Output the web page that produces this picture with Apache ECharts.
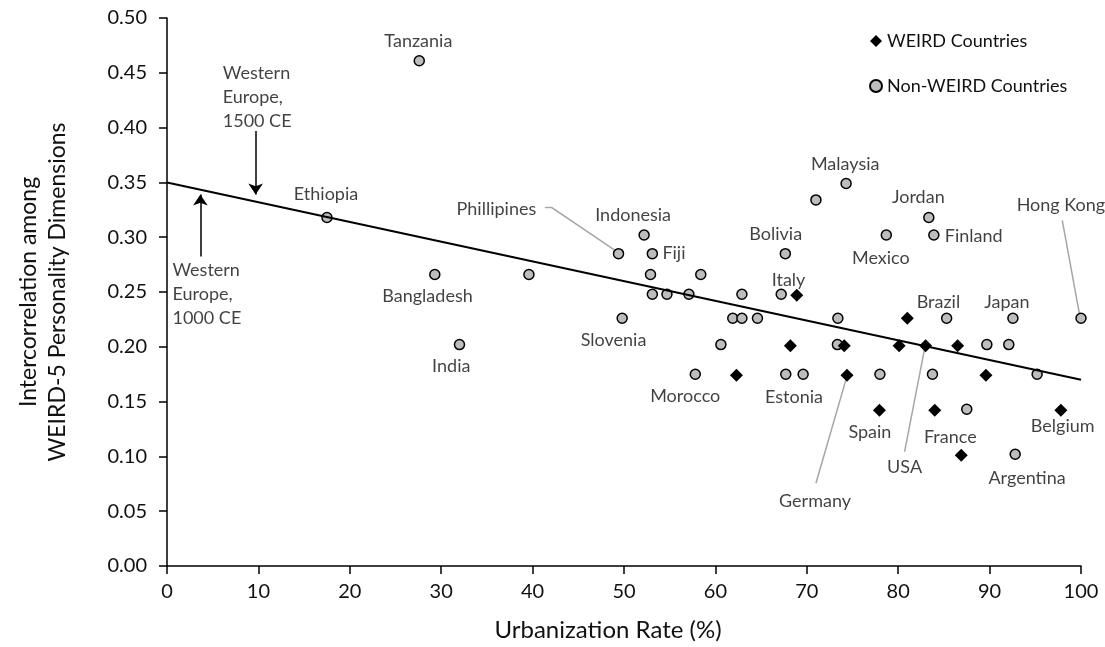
<!DOCTYPE html>
<html>
<head>
    <meta charset="UTF-8">
    <title>Urbanization vs WEIRD-5 intercorrelation</title>
    <script src="https://cdn.jsdelivr.net/npm/echarts@6/dist/echarts.min.js"></script>
    <style>
        html, body { margin: 0; padding: 0; background: #fff; }
        #main { width: 1105px; height: 647px; }
    </style>
</head>
<body>
<div id="main"></div>
<script>
    // WEIRD countries (diamonds)
    var weirdX = [68.9, 81.0, 68.2, 74.1, 80.1, 83.0, 86.5, 62.3, 74.4, 89.6, 77.95, 84.0, 97.8, 86.9];
    var weirdY = [0.247, 0.226, 0.201, 0.201, 0.201, 0.201, 0.201, 0.174, 0.174, 0.174, 0.142, 0.142, 0.142, 0.101];

    // Non-WEIRD countries (grey circles)
    var otherX = [27.6, 17.5, 29.3, 32.0, 39.6, 49.4, 52.2, 53.1, 52.9, 53.1, 54.7, 57.1, 58.4, 62.9,
        49.8, 61.9, 62.9, 64.6, 60.6, 57.8, 74.3, 71.0, 83.35, 78.7, 83.9, 67.65, 67.2, 73.4,
        85.3, 92.55, 100.0, 73.35, 89.7, 92.1, 67.7, 69.6, 78.0, 83.75, 95.2, 87.5, 92.8];
    var otherY = [0.461, 0.318, 0.266, 0.202, 0.266, 0.285, 0.302, 0.285, 0.266, 0.248, 0.248, 0.248, 0.266, 0.248,
        0.226, 0.226, 0.226, 0.226, 0.202, 0.175, 0.349, 0.334, 0.318, 0.302, 0.302, 0.285, 0.248, 0.226,
        0.226, 0.226, 0.226, 0.202, 0.202, 0.202, 0.175, 0.175, 0.175, 0.175, 0.175, 0.143, 0.102];

    // fitted line, end points at x = 0 and x = 100
    var trendX = [0, 100];
    var trendY = [0.35, 0.17];

    var xTicks = [0, 10, 20, 30, 40, 50, 60, 70, 80, 90, 100];
    var yTicks = [0, 0.05, 0.10, 0.15, 0.20, 0.25, 0.30, 0.35, 0.40, 0.45, 0.50];

    // country names and where they sit (data units)
    var labelNames = ['Tanzania', 'Ethiopia', 'Bangladesh', 'India', 'Phillipines', 'Indonesia', 'Fiji',
        'Slovenia', 'Morocco', 'Bolivia', 'Italy', 'Estonia', 'Malaysia', 'Jordan', 'Mexico', 'Finland',
        'Hong Kong', 'Brazil', 'Japan', 'Spain', 'France', 'USA', 'Belgium', 'Argentina', 'Germany'];
    var labelX = [27.5, 17.4, 28.5, 31.1, 40.4, 51.0, 54.2, 48.85, 56.7, 66.6, 68.0, 68.6, 74.2, 82.2,
        78.1, 85.1, 97.8, 84.4, 91.9, 76.9, 85.7, 80.7, 98.0, 94.1, 70.9];
    var labelY = [0.479, 0.339, 0.2466, 0.182, 0.3258, 0.3205, 0.2856, 0.2058, 0.1546, 0.3023, 0.2605, 0.154,
        0.367, 0.3367, 0.281, 0.3007, 0.3288, 0.2408, 0.2408, 0.1221, 0.1172, 0.0898, 0.1279, 0.0801, 0.0587];
    var labelAlign = ['center', 'center', 'center', 'center', 'right', 'center', 'left', 'center', 'center',
        'center', 'center', 'center', 'center', 'center', 'center', 'left', 'center', 'center', 'center',
        'center', 'center', 'center', 'center', 'center', 'center'];

    // historical notes with arrows
    var noteText = ['Western\nEurope,\n1500 CE', 'Western\nEurope,\n1000 CE'];
    var noteX = [6.1, 0.6];
    var noteY = [0.428, 0.248];
    var arrowFrom = [[9.7, 0.397], [3.65, 0.2825]];
    var arrowTo = [[9.7, 0.339], [3.65, 0.339]];

    // grey leader lines from labels to points
    var leaders = [
        [[41.35, 0.327], [42.1, 0.327], [48.9, 0.2886]],
        [[97.95, 0.3153], [99.85, 0.2292]],
        [[74.3, 0.1705], [71.0, 0.0755]],
        [[82.9, 0.1988], [80.7, 0.1044]]
    ];

    var FONT = 'Lato';
    var TXT = '#111';

    function pairs(xs, ys) {
        var out = [];
        for (var i = 0; i < xs.length; i++) out.push([xs[i], ys[i]]);
        return out;
    }

    var labelData = labelNames.map(function (n, i) {
        return {
            name: n,
            value: [labelX[i], labelY[i]],
            label: {align: labelAlign[i]}
        };
    });
    var noteData = noteText.map(function (t, i) {
        return {name: t, value: [noteX[i], noteY[i]]};
    });
    var arrowData = arrowFrom.map(function (p, i) {
        return {coords: [p, arrowTo[i]]};
    });
    var leaderData = leaders.map(function (c) {
        return {coords: c};
    });

    // plain text labels, no inside stroke
    var textLabel = {
        show: true,
        position: 'inside',
        verticalAlign: 'middle',
        formatter: '{b}',
        fontFamily: FONT,
        fontSize: 18,
        color: TXT,
        textBorderWidth: 0,
        textBorderColor: 'transparent'
    };

    var chart = echarts.init(document.getElementById('main'));

    var option = {
        backgroundColor: '#fff',
        animation: false,
        textStyle: {fontFamily: FONT, color: TXT},
        grid: {left: 167, right: 24, top: 18, bottom: 81, containLabel: false},
        legend: {
            orient: 'vertical',
            left: 864,
            top: 27,
            itemWidth: 12,
            itemHeight: 12,
            itemGap: 27,
            textStyle: {fontFamily: FONT, fontSize: 18, color: TXT},
            data: ['WEIRD Countries', 'Non-WEIRD Countries']
        },
        xAxis: {
            type: 'value',
            min: 0,
            max: 100,
            interval: 10,
            name: 'Urbanization Rate (%)',
            nameLocation: 'middle',
            nameGap: 52,
            nameTextStyle: {fontFamily: FONT, fontSize: 24, color: TXT, padding: [0, 32, 0, 0]},
            axisLine: {lineStyle: {color: '#000', width: 1.5}},
            axisTick: {show: true, length: 8, lineStyle: {color: '#000', width: 1.5}},
            axisLabel: {
                fontFamily: FONT, fontSize: 20, color: TXT, margin: 16,
                customValues: xTicks
            },
            splitLine: {show: false}
        },
        yAxis: {
            type: 'value',
            min: 0,
            max: 0.5,
            interval: 0.05,
            name: 'Intercorrelation among\nWEIRD-5 Personality Dimensions',
            nameLocation: 'middle',
            nameRotate: 90,
            nameGap: 95,
            nameTextStyle: {fontFamily: FONT, fontSize: 23, color: TXT, lineHeight: 29},
            axisLine: {show: true, lineStyle: {color: '#000', width: 1.5}},
            axisTick: {show: true, length: 8, lineStyle: {color: '#000', width: 1.5}},
            axisLabel: {
                fontFamily: FONT, fontSize: 20, color: TXT, margin: 20,
                customValues: yTicks,
                formatter: function (v) { return v.toFixed(2); }
            },
            splitLine: {show: false}
        },
        series: [
            {
                name: 'Non-WEIRD Countries',
                type: 'scatter',
                symbol: 'circle',
                symbolSize: 10,
                itemStyle: {color: '#bdbdbd', borderColor: '#000', borderWidth: 1.5, opacity: 1},
                data: pairs(otherX, otherY),
                z: 3
            },
            {
                name: 'trend',
                type: 'line',
                data: pairs(trendX, trendY),
                showSymbol: false,
                symbol: 'none',
                lineStyle: {color: '#000', width: 2},
                silent: true,
                z: 4
            },
            {
                name: 'WEIRD Countries',
                type: 'scatter',
                symbol: 'diamond',
                symbolSize: 13,
                itemStyle: {color: '#000', opacity: 1},
                data: pairs(weirdX, weirdY),
                z: 5
            },
            {
                name: 'leaders',
                type: 'lines',
                coordinateSystem: 'cartesian2d',
                polyline: true,
                silent: true,
                lineStyle: {color: '#a6a6a6', width: 1.5, opacity: 1},
                data: leaderData,
                z: 2
            },
            {
                name: 'arrows',
                type: 'lines',
                coordinateSystem: 'cartesian2d',
                silent: true,
                symbol: ['none', 'arrow'],
                symbolSize: 11,
                lineStyle: {color: '#000', width: 1.5, opacity: 1},
                data: arrowData,
                z: 2
            },
            {
                name: 'names',
                type: 'scatter',
                symbolSize: 0,
                silent: true,
                itemStyle: {color: '#fff'},
                data: labelData,
                label: textLabel,
                z: 6
            },
            {
                name: 'notes',
                type: 'scatter',
                symbolSize: 0,
                silent: true,
                itemStyle: {color: '#fff'},
                data: noteData,
                label: Object.assign({}, textLabel, {align: 'left', lineHeight: 24}),
                z: 6
            }
        ]
    };

    chart.setOption(option);
</script>
</body>
</html>
